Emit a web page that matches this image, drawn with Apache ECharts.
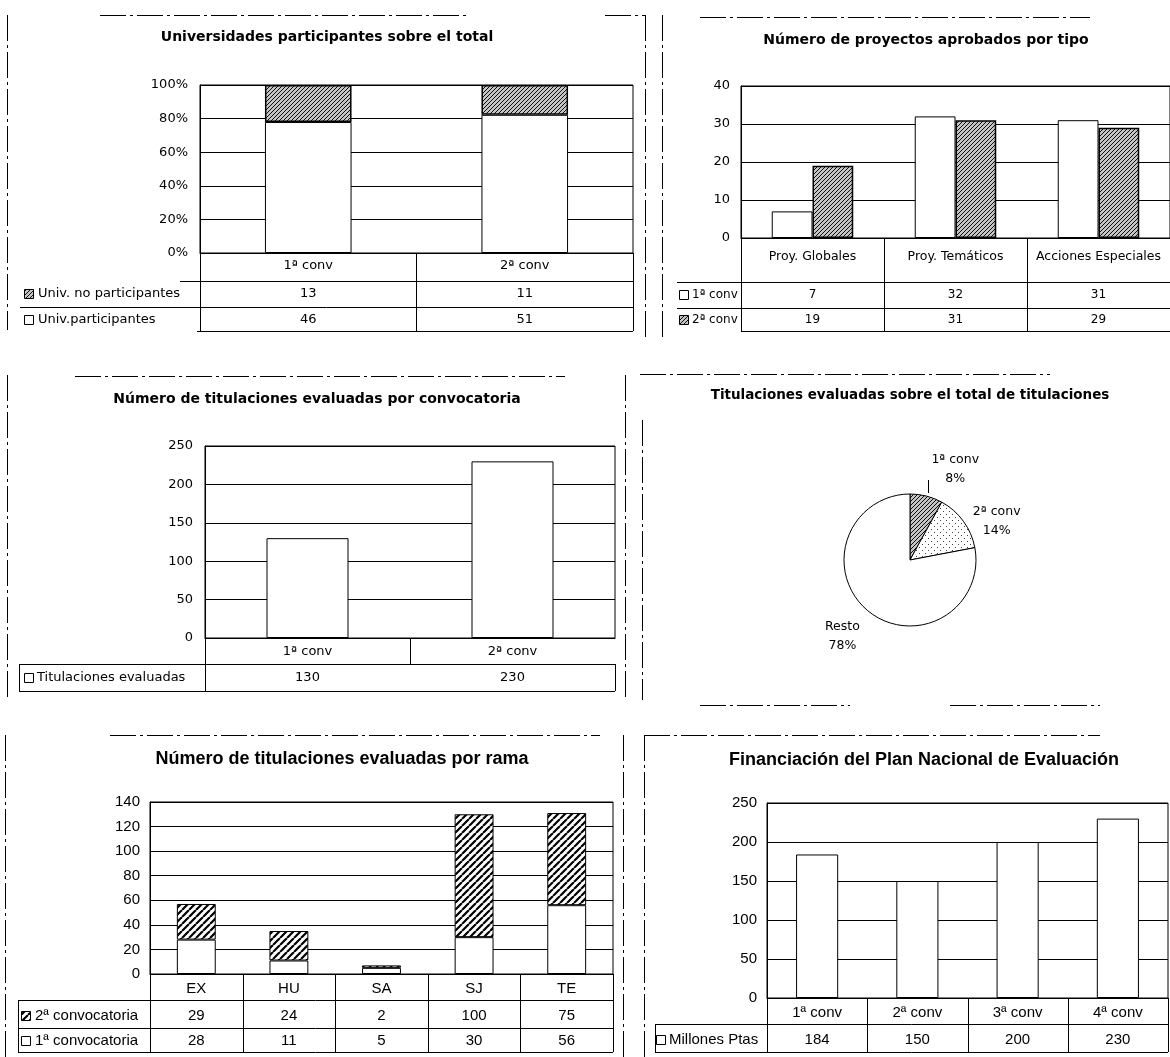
<!DOCTYPE html>
<html>
<head>
<meta charset="utf-8">
<script src="https://cdn.jsdelivr.net/npm/echarts@6/dist/echarts.min.js"></script>
<style>
html, body { margin: 0; padding: 0; background: #fff; overflow: hidden; }
#main { width: 1170px; height: 1057px; }
</style>
</head>
<body>
<div id="main"></div>
<script>
// Universidades participantes sobre el total
const univCats = ['1ª conv', '2ª conv']
const univNoPart = [13, 11]
const univPart = [46, 51]
// Número de proyectos aprobados por tipo
const proyCats = ['Proy. Globales', 'Proy. Temáticos', 'Acciones Especiales']
const proyConv1 = [7, 32, 31]
const proyConv2 = [19, 31, 29]
// Número de titulaciones evaluadas por convocatoria
const titCats = ['1ª conv', '2ª conv']
const titEval = [130, 230]
// Titulaciones evaluadas sobre el total (%)
const pieNames = ['1ª conv', '2ª conv', 'Resto']
const piePct = [8, 14, 78]
// Número de titulaciones evaluadas por rama
const ramaCats = ['EX', 'HU', 'SA', 'SJ', 'TE']
const ramaConv2 = [29, 24, 2, 100, 75]
const ramaConv1 = [28, 11, 5, 30, 56]
// Financiación del Plan Nacional de Evaluación
const finCats = ['1ª conv', '2ª conv', '3ª conv', '4ª conv']
const finMillones = [184, 150, 200, 230]

const FONT_A = "'DejaVu Sans', sans-serif"
const FONT_B = "'Liberation Sans', Arial, sans-serif"
const SIZE_A = 13
const SIZE_B = 15

const chart = echarts.init(document.getElementById('main'))

// fill patterns (scan-like hatching)
function makePattern(size, bg, draw) {
  const c = document.createElement('canvas')
  c.width = size
  c.height = size
  const ctx = c.getContext('2d')
  ctx.fillStyle = bg
  ctx.fillRect(0, 0, size, size)
  draw(ctx, size)
  return { image: c, repeat: 'repeat' }
}
function diagLines(ctx, s, color, lw) {
  ctx.strokeStyle = color
  ctx.lineWidth = lw
  ctx.beginPath()
  for (let k = -s; k <= s; k += s) {
    ctx.moveTo(k, s)
    ctx.lineTo(k + s, 0)
  }
  ctx.stroke()
}
const darkHatch = makePattern(4, '#c4c4c4', (ctx, s) => diagLines(ctx, s, '#111', 1))
const stripes = makePattern(7, '#fff', (ctx, s) => diagLines(ctx, s, '#000', 2.2))
const dots = makePattern(6, '#fff', (ctx) => {
  ctx.fillStyle = '#444'
  ctx.fillRect(1, 1, 1, 1)
  ctx.fillRect(4, 4, 1, 1)
})

const grids = [
  { left: 200, top: 85, width: 433, height: 168 },
  { left: 741, top: 86, width: 429, height: 152 },
  { left: 205, top: 446, width: 410, height: 192 },
  { left: 150, top: 802, width: 463, height: 172 },
  { left: 767, top: 803, width: 401, height: 195 }
]

function catAxis(gi, data, font, size, margin) {
  return {
    type: 'category', gridIndex: gi, data: data,
    axisTick: { show: false },
    axisLine: { lineStyle: { color: '#000', width: 1 } },
    axisLabel: { color: '#000', fontFamily: font, fontSize: size, margin: margin, interval: 0 }
  }
}
function valAxis(gi, max, interval, font, size, margin, fmt) {
  return {
    type: 'value', gridIndex: gi, min: 0, max: max, interval: interval,
    axisLine: { show: true, lineStyle: { color: '#000', width: 1 } },
    axisTick: { show: false },
    splitLine: { show: true, lineStyle: { color: '#000', width: 1 } },
    axisLabel: { color: '#000', fontFamily: font, fontSize: size, margin: margin, formatter: fmt || '{value}' }
  }
}

const partPct = univPart.map((v, i) => v / (v + univNoPart[i]) * 100)
const noPartPct = univNoPart.map((v, i) => v / (v + univPart[i]) * 100)

const white = { color: '#fff', borderColor: '#000', borderWidth: 1 }

// pie label placement (Excel-like: beside the slice mid-point)
const pieCenter = [910, 560]
const pieR = 66
const pieTotal = piePct.reduce((a, b) => a + b, 0)
function pieMid(i) {
  let before = 0
  for (let k = 0; k < i; k++) before += piePct[k]
  return (90 - (before + piePct[i] / 2) / pieTotal * 360) * Math.PI / 180
}

// ---- data tables, frames drawn with graphic ----
const graphics = []
function hline(x1, x2, y, dash) {
  graphics.push({ type: 'line', silent: true, shape: { x1: x1, y1: y + 0.5, x2: x2, y2: y + 0.5 },
    style: { stroke: '#000', lineWidth: 1, lineDash: dash || null } })
}
function vline(x, y1, y2, dash) {
  graphics.push({ type: 'line', silent: true, shape: { x1: x + 0.5, y1: y1, x2: x + 0.5, y2: y2 },
    style: { stroke: '#000', lineWidth: 1, lineDash: dash || null } })
}
function txt(x, y, text, font, size, align) {
  graphics.push({ type: 'text', silent: true, x: x, y: y,
    style: { text: text, fill: '#000', font: size + 'px ' + font, align: align || 'center', verticalAlign: 'middle' } })
}
function key(x, y, fill) {
  graphics.push({ type: 'rect', silent: true, shape: { x: x + 0.5, y: y - 4.5, width: 9, height: 9 },
    style: { fill: fill, stroke: '#000', lineWidth: 1 } })
}
function tableRows(g, n, rows, font, size, keyX, textX) {
  const band = g.width / n
  rows.forEach(r => {
    key(keyX, r.y, r.fill)
    txt(textX, r.y, r.name, font, size, 'left')
    r.values.forEach((v, i) => txt(g.left + band * (i + 0.5), r.y, String(v), font, size))
  })
}

// chart 1 table
tableRows(grids[0], 2, [
  { name: 'Univ. no participantes', values: univNoPart, fill: darkHatch, y: 294 },
  { name: 'Univ.participantes', values: univPart, fill: '#fff', y: 320 }
], FONT_A, SIZE_A, 24, 38)
hline(180, 633, 281); hline(20, 633, 307); hline(197, 633, 331)
vline(200, 253, 331); vline(416, 253, 331); vline(633, 253, 331)

// chart 2 table
tableRows(grids[1], 3, [
  { name: '1ª conv', values: proyConv1, fill: '#fff', y: 295 },
  { name: '2ª conv', values: proyConv2, fill: darkHatch, y: 320 }
], FONT_A, 12, 679, 692)
hline(677, 1170, 282); hline(677, 1170, 308); hline(741, 1170, 331)
vline(741, 238, 331); vline(884, 238, 331); vline(1027, 238, 331)

// chart 3 table
tableRows(grids[2], 2, [
  { name: 'Titulaciones evaluadas', values: titEval, fill: '#fff', y: 678 }
], FONT_A, SIZE_A, 24, 37)
hline(19, 615, 664); hline(19, 615, 691)
vline(19, 664, 691); vline(205, 638, 691); vline(410, 638, 664); vline(615, 664, 691)

// chart 5 table
tableRows(grids[3], 5, [
  { name: '2ª convocatoria', values: ramaConv2, fill: stripes, y: 1016 },
  { name: '1ª convocatoria', values: ramaConv1, fill: '#fff', y: 1041 }
], FONT_B, SIZE_B, 21, 35)
hline(18, 613, 1000); hline(18, 613, 1028); hline(18, 613, 1052)
vline(18, 1000, 1052)
for (let k = 0; k <= ramaCats.length; k++) vline(Math.round(150 + 463 / ramaCats.length * k), 974, 1052)

// chart 6 table
tableRows(grids[4], 4, [
  { name: 'Millones Ptas', values: finMillones, fill: '#fff', y: 1040 }
], FONT_B, SIZE_B, 656, 669)
hline(655, 1168, 1024); hline(655, 1168, 1052)
vline(655, 1024, 1052)
for (let k = 0; k <= finCats.length; k++) vline(Math.round(767 + 401 / finCats.length * k), 998, 1052)

// broken panel frames of the scanned page
const dash = [26, 4, 3, 4]
vline(7, 15, 330, dash); hline(100, 470, 15, dash); vline(645, 15, 340, dash); hline(605, 645, 15, dash)
vline(662, 15, 340, dash); hline(700, 1090, 17, dash)
vline(7, 375, 700, dash); hline(75, 565, 376, dash); vline(625, 375, 700, dash)
vline(642, 420, 700, dash); hline(640, 1050, 374, dash); hline(700, 850, 705, dash); hline(950, 1100, 705, dash)
vline(5, 735, 1057, dash); hline(110, 600, 735, dash); vline(623, 735, 1057, dash)
vline(644, 735, 1057, dash); hline(644, 1100, 735, dash)
// leader line of the 1ª conv pie label
vline(928, 480, 493)

function title(text, x, y, font, size) {
  return { text: text, left: x, top: y - size * 0.45, textAlign: 'center', padding: 0,
    textStyle: { color: '#000', fontFamily: font, fontSize: size, fontWeight: 'bold' } }
}

const option = {
  animation: false,
  backgroundColor: '#fff',
  title: [
    title('Universidades participantes sobre el total', 327, 37, FONT_A, 14),
    title('Número de proyectos aprobados por tipo', 926, 40, FONT_A, 14),
    title('Número de titulaciones evaluadas por convocatoria', 317, 399, FONT_A, 14),
    title('Titulaciones evaluadas sobre el total de titulaciones', 910, 395, FONT_A, 13.5),
    title('Número de titulaciones evaluadas por rama', 342, 758, FONT_B, 18),
    title('Financiación del Plan Nacional de Evaluación', 924, 759, FONT_B, 18)
  ],
  grid: grids.map(g => Object.assign({ show: true, borderColor: '#000', borderWidth: 1, backgroundColor: 'transparent' }, g)),
  xAxis: [
    catAxis(0, univCats, FONT_A, SIZE_A, 6),
    catAxis(1, proyCats, FONT_A, 12.5, 12),
    catAxis(2, titCats, FONT_A, SIZE_A, 7),
    catAxis(3, ramaCats, FONT_B, SIZE_B, 7),
    catAxis(4, finCats, FONT_B, SIZE_B, 7)
  ],
  yAxis: [
    valAxis(0, 100, 20, FONT_A, SIZE_A, 12, '{value}%'),
    valAxis(1, 40, 10, FONT_A, SIZE_A, 11),
    valAxis(2, 250, 50, FONT_A, SIZE_A, 12),
    valAxis(3, 140, 20, FONT_B, SIZE_B, 10),
    valAxis(4, 250, 50, FONT_B, SIZE_B, 10)
  ],
  series: [
    { name: 'Univ.participantes', type: 'bar', stack: 'u', xAxisIndex: 0, yAxisIndex: 0,
      barCategoryGap: '60%', itemStyle: white, data: partPct },
    { name: 'Univ. no participantes', type: 'bar', stack: 'u', xAxisIndex: 0, yAxisIndex: 0,
      itemStyle: { color: darkHatch, borderColor: '#000', borderWidth: 1.5 }, data: noPartPct },
    { name: '1ª conv', type: 'bar', xAxisIndex: 1, yAxisIndex: 1, barGap: '0%', barCategoryGap: '43%',
      itemStyle: white, data: proyConv1 },
    { name: '2ª conv', type: 'bar', xAxisIndex: 1, yAxisIndex: 1,
      itemStyle: { color: darkHatch, borderColor: '#000', borderWidth: 1.5 }, data: proyConv2 },
    { name: 'Titulaciones evaluadas', type: 'bar', xAxisIndex: 2, yAxisIndex: 2,
      barCategoryGap: '60%', itemStyle: white, data: titEval },
    {
      type: 'pie', center: pieCenter, radius: pieR, startAngle: 90, clockwise: true,
      itemStyle: { borderColor: '#000', borderWidth: 1 },
      label: { show: true, formatter: '{b}\n{c}%', color: '#000', fontFamily: FONT_A, fontSize: 12.5, lineHeight: 19 },
      labelLine: { show: false },
      labelLayout: function (params) {
        const a = pieMid(params.dataIndex)
        const cos = Math.cos(a), sin = Math.sin(a)
        const ax = pieCenter[0] + (pieR + 8) * cos
        const ay = pieCenter[1] - (pieR + 8) * sin
        const w = params.labelRect.width
        const h = params.labelRect.height
        return {
          x: ax + Math.sign(cos) * (w / 2 + 3),
          y: ay - (Math.abs(sin) > 0.7 ? Math.sign(sin) * h / 2 : -5),
          align: 'center', verticalAlign: 'middle'
        }
      },
      data: pieNames.map((n, i) => ({
        name: n, value: piePct[i],
        itemStyle: { color: [darkHatch, dots, '#fff'][i] }
      }))
    },
    { name: '1ª convocatoria', type: 'bar', stack: 'r', xAxisIndex: 3, yAxisIndex: 3,
      barCategoryGap: '58%', itemStyle: white, data: ramaConv1 },
    { name: '2ª convocatoria', type: 'bar', stack: 'r', xAxisIndex: 3, yAxisIndex: 3,
      itemStyle: { color: stripes, borderColor: '#000', borderWidth: 1 }, data: ramaConv2 },
    { name: 'Millones Ptas', type: 'bar', xAxisIndex: 4, yAxisIndex: 4,
      barCategoryGap: '58%', itemStyle: white, data: finMillones }
  ],
  graphic: graphics
}
chart.setOption(option)
</script>
</body>
</html>
